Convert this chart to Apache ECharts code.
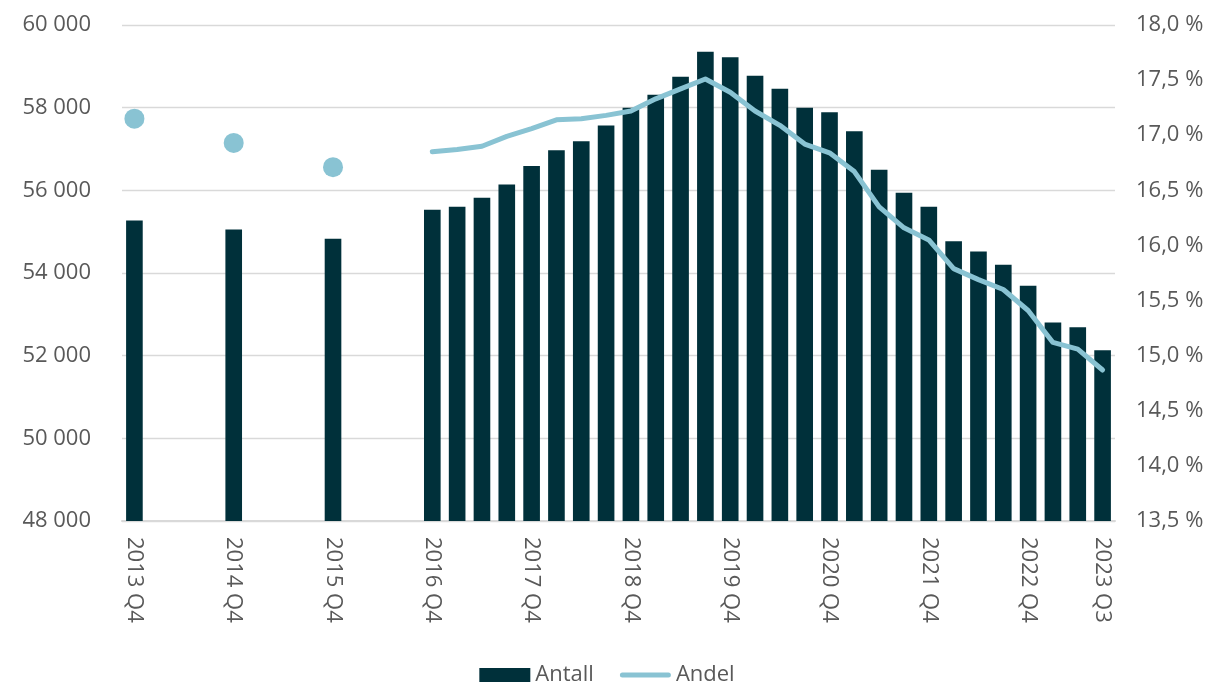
<!DOCTYPE html>
<html>
<head>
<meta charset="utf-8">
<script src="https://cdn.jsdelivr.net/npm/echarts@6/dist/echarts.min.js"></script>
<style>
html,body{margin:0;padding:0;background:#fff;}
#chart{width:1214px;height:684px;}
</style>
</head>
<body>
<div id="chart"></div>
<script>
var categories = [
  '2013 Q4',
  '2014 Q1','2014 Q2','2014 Q3','2014 Q4',
  '2015 Q1','2015 Q2','2015 Q3','2015 Q4',
  '2016 Q1','2016 Q2','2016 Q3','2016 Q4',
  '2017 Q1','2017 Q2','2017 Q3','2017 Q4',
  '2018 Q1','2018 Q2','2018 Q3','2018 Q4',
  '2019 Q1','2019 Q2','2019 Q3','2019 Q4',
  '2020 Q1','2020 Q2','2020 Q3','2020 Q4',
  '2021 Q1','2021 Q2','2021 Q3','2021 Q4',
  '2022 Q1','2022 Q2','2022 Q3','2022 Q4',
  '2023 Q1','2023 Q2','2023 Q3'
];
var antall = [
  55270, null, null, null, 55050, null, null, null, 54830, null, null, null,
  55530, 55600, 55820, 56140, 56590, 56970, 57190, 57570, 58000,
  58310, 58750, 59350, 59220, 58770, 58460, 58000, 57890,
  57430, 56500, 55940, 55600, 54770, 54520, 54200, 53690,
  52800, 52690, 52130
];
var andel = [
  17.15, null, null, null, 16.93, null, null, null, 16.71, null, null, null,
  16.85, 16.87, 16.90, 16.99, 17.06, 17.14, 17.15, 17.18, 17.22,
  17.33, 17.42, 17.51, 17.39, 17.22, 17.09, 16.92, 16.84,
  16.67, 16.35, 16.16, 16.05, 15.79, 15.69, 15.60, 15.41,
  15.12, 15.06, 14.87
];
var leftTicks = {min: 48000, max: 60000, interval: 2000};
var rightTicks = {min: 13.5, max: 18.0, interval: 0.5};

var FONT = 'Open Sans';
var TXT = '#595959';

// isolated points (no neighbours) are drawn as dots
var andelData = andel.map(function (v, i) {
  if (v === null) return null;
  var prev = i > 0 ? andel[i - 1] : null;
  var next = i < andel.length - 1 ? andel[i + 1] : null;
  if (prev === null && next === null) {
    return {value: v, symbol: 'circle', symbolSize: 20};
  }
  return v;
});

var chart = echarts.init(document.getElementById('chart'));
chart.setOption({
  animation: false,
  textStyle: {fontFamily: FONT},
  grid: {left: 122, right: 99, top: 25, bottom: 163, containLabel: false},
  legend: {
    bottom: -7,
    left: 'center',
    itemWidth: 51,
    itemHeight: 14,
    itemGap: 26,
    symbolKeepAspect: true,
    textStyle: {fontFamily: FONT, fontSize: 22, color: TXT},
    data: [
      {name: 'Antall', icon: 'rect'},
      {name: 'Andel', icon: 'path://M2.5,0 H48.5 A2.5,2.5 0 0 1 48.5,5 H2.5 A2.5,2.5 0 0 1 2.5,0 Z'}
    ]
  },
  xAxis: {
    type: 'category',
    data: categories,
    axisLine: {lineStyle: {color: '#d9d9d9', width: 2}},
    axisTick: {show: false},
    axisLabel: {
      rotate: -90,
      margin: 16,
      fontFamily: FONT,
      fontSize: 22,
      color: TXT,
      interval: function (index) {
        return index % 4 === 0 || index === categories.length - 1;
      }
    }
  },
  yAxis: [
    {
      type: 'value',
      min: leftTicks.min, max: leftTicks.max, interval: leftTicks.interval,
      axisLine: {show: false},
      axisTick: {show: false},
      splitLine: {lineStyle: {color: '#d9d9d9', width: 1.3}},
      axisLabel: {
        margin: 31,
        fontFamily: FONT, fontSize: 22, color: TXT,
        formatter: function (v) {
          return String(Math.round(v)).replace(/\B(?=(\d{3})+(?!\d))/g, ' ');
        }
      }
    },
    {
      type: 'value',
      min: rightTicks.min, max: rightTicks.max, interval: rightTicks.interval,
      axisLine: {show: false},
      axisTick: {show: false},
      splitLine: {show: false},
      axisLabel: {
        margin: 21,
        fontFamily: FONT, fontSize: 22, color: TXT,
        formatter: function (v) {
          return v.toFixed(1).replace('.', ',') + ' %';
        }
      }
    }
  ],
  series: [
    {
      name: 'Antall',
      type: 'bar',
      yAxisIndex: 0,
      data: antall,
      barCategoryGap: '33%',
      itemStyle: {color: '#00303a'}
    },
    {
      name: 'Andel',
      type: 'line',
      yAxisIndex: 1,
      data: andelData,
      symbol: 'none',
      showAllSymbol: true,
      connectNulls: false,
      lineStyle: {color: '#89c3d3', width: 5, cap: 'round', join: 'round'},
      itemStyle: {color: '#89c3d3'}
    }
  ]
});
</script>
</body>
</html>
